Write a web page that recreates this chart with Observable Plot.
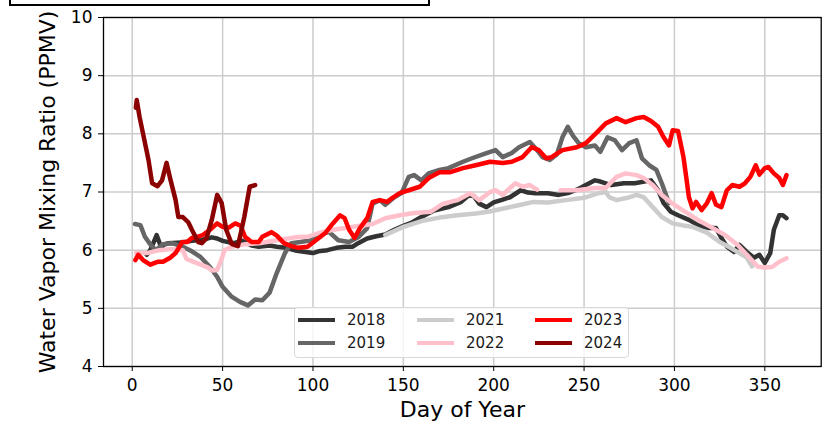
<!DOCTYPE html>
<html><head><meta charset="utf-8">
<script src="https://cdn.jsdelivr.net/npm/d3@7"></script>
<script src="https://cdn.jsdelivr.net/npm/@observablehq/plot@0.6"></script>
<style>
body{margin:0;background:#fff;font-family:"DejaVu Sans",sans-serif;}
#wrap{position:relative;width:836px;height:424px;overflow:hidden;}
#topbox{position:absolute;left:9px;top:-10px;width:417px;height:12px;border:2px solid #000;}
#legend{position:absolute;left:294px;top:307px;width:333px;height:49px;border:1px solid #d9d9d9;border-radius:4px;background:rgba(255,255,255,0.8);}
.item{position:absolute;height:20px;display:flex;align-items:center;}
.sw{width:37px;height:4px;margin-right:12px;}
.lab{font-size:15px;color:#1a1a1a;}
g[aria-label="x-axis label"], g[aria-label="y-axis label"]{font-size:22px;}
</style></head>
<body><div id="wrap"><div id="chart"></div><div id="legend"></div><div id="topbox"></div></div>
<script>
const years = ["2018","2019","2021","2022","2023","2024"];
const colors = ["#333333","#666666","#cccccc","#ffc0cb","#ff0000","#8b0000"];
const xTicks = [0,50,100,150,200,250,300,350];
const yTicks = [4,5,6,7,8,9,10];

const days2018 = [8,10,13.5,16,18,20,27,33,39,44,47,50,56,61,66,70,76,80,85,91,96,100,103,108,113,118,122,125,130,135,140,145,150,155,160,167,175,182,186,189,192,196,200,205,209,215,219,223,230,236,241,246,251,256,259,265,272,278,287,291,294,298,302,308,313,319,323,326,329,333,336,340,344,347,350,353,355,358,360,362];
const vals2018 = [5.92,6.0,6.26,6.05,6.1,6.12,6.13,6.16,6.18,6.22,6.2,6.16,6.12,6.16,6.08,6.06,6.08,6.06,6.04,5.99,5.97,5.95,5.98,6.0,6.04,6.06,6.06,6.12,6.2,6.24,6.27,6.35,6.42,6.48,6.57,6.68,6.74,6.83,6.94,6.93,6.8,6.74,6.82,6.87,6.91,7.03,6.99,6.98,6.98,6.95,6.98,7.04,7.12,7.2,7.18,7.12,7.15,7.15,7.2,7.03,6.81,6.66,6.6,6.52,6.43,6.38,6.38,6.21,6.06,5.97,6.09,5.97,5.87,5.92,5.78,5.95,6.35,6.6,6.6,6.55];

const days2019 = [1.5,4.5,7,10,13,17,22,28,33,37.5,43,47,50,55,59.6,64,68,72,76,80,84.5,88,93,99,104,109,114,120,125,130,133,137,140,145,149,153,156,160,164,170,175,183,188,196,201,205,210,214,220,224,227,231,235,238,241,244,247,251,256,259,263,267,271,275,279,282,286,290,293,295,297];
const vals2019 = [6.45,6.43,6.23,6.1,6.0,6.1,6.12,6.06,5.98,5.89,5.71,5.54,5.37,5.2,5.11,5.05,5.15,5.14,5.27,5.61,5.95,6.12,6.14,6.17,6.28,6.31,6.17,6.14,6.22,6.38,6.8,6.86,6.78,6.91,6.98,7.26,7.29,7.2,7.32,7.38,7.41,7.52,7.58,7.67,7.72,7.6,7.67,7.77,7.86,7.72,7.6,7.55,7.65,7.94,8.12,7.96,7.84,7.77,7.8,7.69,7.94,7.89,7.72,7.84,7.89,7.58,7.46,7.38,7.15,6.98,6.81];

const days2021 = [140,150,160,170,180,190,197,206,215,222,230,240,250,258,262,264,268,274,279,283,288,293,299,304,310,318,325,331,336,340,343];
const vals2021 = [6.26,6.4,6.5,6.56,6.6,6.63,6.66,6.72,6.78,6.83,6.82,6.86,6.9,6.98,7.0,6.91,6.86,6.9,6.95,6.91,6.74,6.57,6.46,6.43,6.4,6.3,6.14,6.04,5.95,5.87,5.72];

const days2022 = [2,8,15,22,28,30,34,38,42,44,47,49.5,51,55,62,70,76,82,90,97,104,111,118,126,133,140,148,156,165,172,180,187,192,198,201,205,209,212,216,220,224,230,237,246,256,262,265,268,273,279,283,288,293,299,306,313,320,328,335,341,346,350,354,358,362];
const vals2022 = [5.95,5.95,6.0,6.02,6.0,5.85,5.8,5.75,5.7,5.65,5.66,5.85,6.0,6.06,6.1,6.12,6.15,6.18,6.22,6.23,6.3,6.35,6.38,6.42,6.45,6.55,6.6,6.64,6.66,6.8,6.86,6.98,6.86,7.0,7.03,6.95,7.07,7.15,7.09,7.12,7.04,NaN,7.03,7.03,7.07,7.07,7.17,7.26,7.32,7.29,7.24,7.12,6.95,6.8,6.66,6.52,6.4,6.26,6.09,5.89,5.72,5.7,5.71,5.8,5.86];

const days2023 = [1.7,3.3,6,10,14,17,21,24,27.6,30.4,33,36,39,43,47,50,53,57,60,62.4,66,70,72,77,80,84,88,92,97,102,107,111,115,117.5,120,123,126,130,133,137,141,144,148,153,159,164,170,176,183,190,198,205,210,216,221,225,229,232,238,246,251,257,262,268,273,279,283,287,291,294,297,299,302,305,306.5,308,310,312,315,318,320.6,323,326,329,332,336,339,342,345,347,350,352,355,358,360,362];
const vals2023 = [5.83,5.92,5.83,5.75,5.8,5.8,5.87,5.95,6.14,6.14,6.21,6.23,6.26,6.35,6.46,6.4,6.38,6.46,6.42,6.23,6.14,6.14,6.23,6.31,6.25,6.12,6.07,6.04,6.06,6.18,6.3,6.46,6.6,6.55,6.35,6.21,6.38,6.55,6.83,6.86,6.83,6.9,6.98,7.03,7.09,7.24,7.34,7.34,7.41,7.46,7.52,7.5,7.52,7.6,7.77,7.72,7.58,7.6,7.72,7.77,7.84,8.02,8.18,8.27,8.2,8.27,8.29,8.22,8.12,7.94,7.8,8.06,8.05,7.6,7.26,6.91,6.72,6.83,6.69,6.81,6.98,6.78,6.74,7.03,7.12,7.09,7.15,7.26,7.46,7.3,7.41,7.43,7.32,7.24,7.12,7.29];

const days2024 = [2,2.5,4,6,9,11,14,16.5,19,21,24,25.5,28,31,33,35,36.5,38.5,41,44,47,49.5,52,55,58.5,62,65,68];
const vals2024 = [8.45,8.58,8.3,8.0,7.55,7.15,7.1,7.2,7.5,7.23,6.86,6.57,6.57,6.48,6.35,6.23,6.14,6.12,6.2,6.52,6.95,6.81,6.35,6.11,6.07,6.57,7.09,7.12];

const seriesDays = {"2018":days2018,"2019":days2019,"2021":days2021,"2022":days2022,"2023":days2023,"2024":days2024};
const seriesVals = {"2018":vals2018,"2019":vals2019,"2021":vals2021,"2022":vals2022,"2023":vals2023,"2024":vals2024};
const rows = years.flatMap(yr => seriesDays[yr].map((d,i) => ({year: yr, day: d, value: seriesVals[yr][i]})));

const chart = Plot.plot({
  width: 836, height: 424,
  marginLeft: 103, marginRight: 15.3, marginTop: 17, marginBottom: 58,
  style: {fontFamily: "DejaVu Sans", background: "white", color: "black", overflow: "visible"},
  x: {domain: [-15.9, 381.2]},
  y: {domain: [4, 10]},
  color: {domain: years, range: colors},
  marks: [
    Plot.gridX(xTicks, {stroke: "#cccccc", strokeOpacity: 1, strokeWidth: 1.5}),
    Plot.gridY(yTicks, {stroke: "#cccccc", strokeOpacity: 1, strokeWidth: 1.5}),
    Plot.line(rows, {x: "day", y: "value", z: "year", stroke: "year", strokeWidth: 4.5, strokeLinejoin: "round"}),
    Plot.frame({stroke: "black", strokeWidth: 1.3}),
    Plot.axisX(xTicks, {tickSize: 5, tickPadding: 7, fontSize: 17, tickFormat: "d", label: "Day of Year", labelAnchor: "center", labelArrow: "none", labelOffset: 50}),
    Plot.axisY(yTicks, {tickSize: 5, tickPadding: 6, fontSize: 17, tickFormat: "d", label: "Water Vapor Mixing Ratio (PPMV)", labelAnchor: "center", labelArrow: "none", labelOffset: 64})
  ]
});
document.getElementById("chart").appendChild(chart);

const legend = document.getElementById("legend");
const colLeft = [3, 122, 240];
const rowTop = [2, 25];
years.forEach((yr, i) => {
  const item = document.createElement("div");
  item.className = "item";
  item.style.left = colLeft[Math.floor(i / 2)] + "px";
  item.style.top = rowTop[i % 2] + "px";
  const sw = document.createElement("div");
  sw.className = "sw";
  sw.style.background = colors[i];
  const lab = document.createElement("span");
  lab.className = "lab";
  lab.textContent = yr;
  item.appendChild(sw); item.appendChild(lab);
  legend.appendChild(item);
});
</script></body></html>
